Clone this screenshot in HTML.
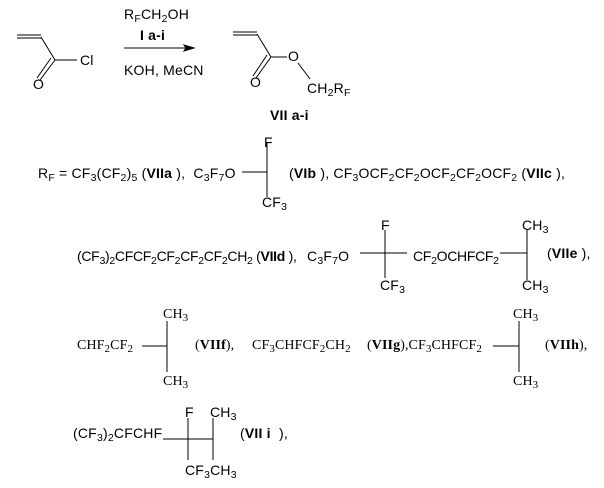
<!DOCTYPE html>
<html><head><meta charset="utf-8"><style>
body{margin:0;width:604px;height:488px;background:#fff;position:relative;overflow:hidden;font-family:"Liberation Sans",Arial,sans-serif;font-size:14px;letter-spacing:0.2px;color:#000}
.t{position:absolute;white-space:nowrap;line-height:14px}
.t i{font-style:normal;font-size:10.5px;vertical-align:-3px;line-height:0}
.t b{font-weight:bold}
.n{letter-spacing:-0.3px}
.s{font-family:"Liberation Serif",serif;font-size:14px;letter-spacing:0.1px}
.s i{font-size:11px}
svg{position:absolute;left:0;top:0}
</style></head><body>
<svg width="604" height="488" stroke="#000" stroke-width="1" fill="none">
<line x1="17" y1="35" x2="41" y2="35"/><line x1="17" y1="38" x2="41" y2="38"/>
<line x1="41" y1="37" x2="55" y2="60"/><line x1="55" y1="60" x2="40" y2="80"/><line x1="51" y1="58" x2="37" y2="78"/>
<line x1="55" y1="60" x2="77" y2="60"/>
<line x1="124" y1="48" x2="190" y2="48"/><polygon points="194,48 184,45 186,48 184,51" fill="#000"/>
<line x1="233" y1="32" x2="257" y2="32"/><line x1="233" y1="35" x2="257" y2="35"/>
<line x1="257" y1="34" x2="271" y2="57"/><line x1="271" y1="57" x2="256" y2="78"/><line x1="267" y1="55" x2="253" y2="76"/>
<line x1="271" y1="57" x2="287" y2="57"/><line x1="298" y1="63" x2="310" y2="79"/>
<line x1="242" y1="172" x2="267" y2="172"/><line x1="267" y1="143" x2="267" y2="197"/>
<line x1="360" y1="253" x2="407" y2="253"/><line x1="385" y1="230" x2="385" y2="278"/>
<line x1="500" y1="253" x2="527" y2="253"/><line x1="527" y1="230" x2="527" y2="280"/>
<line x1="142" y1="346" x2="167" y2="346"/><line x1="167" y1="321" x2="167" y2="372"/>
<line x1="493" y1="346" x2="519" y2="346"/><line x1="519" y1="321" x2="519" y2="372"/>
<line x1="163" y1="439" x2="213" y2="439"/><line x1="188" y1="418" x2="188" y2="460"/><line x1="213" y1="418" x2="213" y2="460"/>
</svg>
<div class="t" style="left:80px;top:53px">Cl</div>
<div class="t" style="left:33px;top:77px">O</div>
<div class="t" style="left:124px;top:7px">R<i>F</i>CH<i>2</i>OH</div>
<div class="t" style="left:140px;top:28px"><b>I a-i</b></div>
<div class="t" style="left:124px;top:63px">KOH, MeCN</div>
<div class="t" style="left:288px;top:49px">O</div>
<div class="t" style="left:250px;top:75px">O</div>
<div class="t" style="left:307px;top:81px">CH<i>2</i>R<i>F</i></div>
<div class="t" style="left:270px;top:108px"><b>VII a-i</b></div>

<div class="t" style="left:38px;top:166px">R<i>F</i> = CF<i>3</i>(CF<i>2</i>)<i>5</i> (<b>VIIa</b> ), &nbsp;C<i>3</i>F<i>7</i>O</div>
<div class="t" style="left:264px;top:135px">F</div>
<div class="t" style="left:262px;top:195px">CF<i>3</i></div>
<div class="t" style="left:289px;top:166px">(<b>VIb</b> ), CF<i>3</i>OCF<i>2</i>CF<i>2</i>OCF<i>2</i>CF<i>2</i>OCF<i>2</i> (<b>VIIc</b> ),</div>

<div class="t n" style="left:77px;top:249px">(CF<i>3</i>)<i>2</i>CFCF<i>2</i>CF<i>2</i>CF<i>2</i>CF<i>2</i>CH<i>2</i> (<b>VIId</b> ),</div>
<div class="t" style="left:307px;top:249px">C<i>3</i>F<i>7</i>O</div>
<div class="t" style="left:381px;top:218px">F</div>
<div class="t" style="left:380px;top:278px">CF<i>3</i></div>
<div class="t n" style="left:413px;top:249px">CF<i>2</i>OCHFCF<i>2</i></div>
<div class="t" style="left:522px;top:218px">CH<i>3</i></div>
<div class="t" style="left:522px;top:278px">CH<i>3</i></div>
<div class="t" style="left:547px;top:246px">(<b>VIIe</b> ),</div>

<div class="t s" style="left:77px;top:339px">CHF<i>2</i>CF<i>2</i></div>
<div class="t s" style="left:163px;top:308px">CH<i>3</i></div>
<div class="t s" style="left:163px;top:375px">CH<i>3</i></div>
<div class="t s" style="left:195px;top:339px">(<b>VIIf</b>),</div>
<div class="t s" style="left:252px;top:339px">CF<i>3</i>CHFCF<i>2</i>CH<i>2</i></div>
<div class="t s" style="left:367px;top:339px">(<b>VIIg</b>),CF<i>3</i>CHFCF<i>2</i></div>
<div class="t s" style="left:513px;top:308px">CH<i>3</i></div>
<div class="t s" style="left:513px;top:375px">CH<i>3</i></div>
<div class="t s" style="left:545px;top:339px">(<b>VIIh</b>),</div>

<div class="t" style="left:73px;top:426px">(CF<i>3</i>)<i>2</i>CFCHF</div>
<div class="t" style="left:185px;top:405px">F</div>
<div class="t" style="left:210px;top:405px">CH<i>3</i></div>
<div class="t" style="left:185px;top:463px">CF<i>3</i>CH<i>3</i></div>
<div class="t" style="left:240px;top:426px">(<b>VII i</b> &nbsp;),</div>
</body></html>
